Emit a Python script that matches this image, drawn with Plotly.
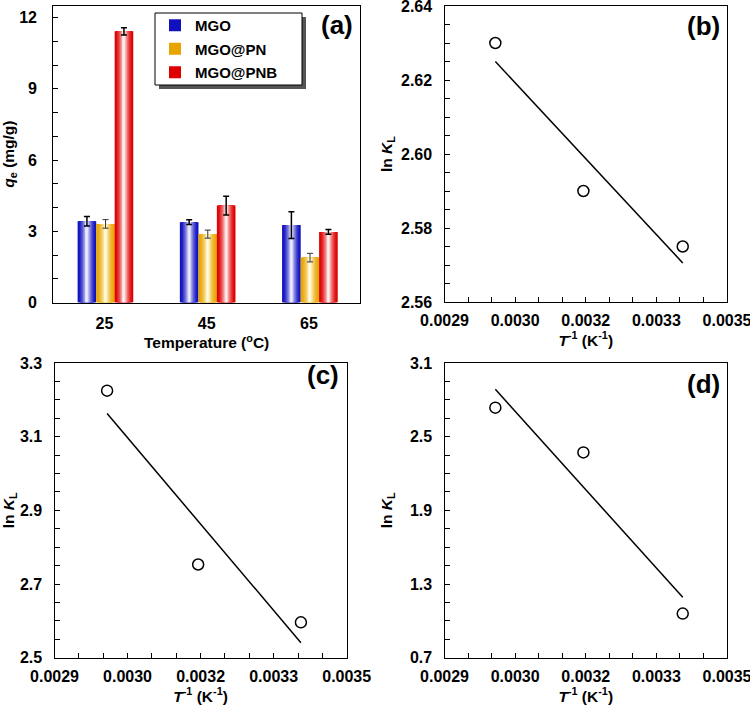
import numpy as np
import plotly.graph_objects as go

# ---------------- data ----------------
temps = ["25", "45", "65"]
series_names = ["MGO", "MGO@PN", "MGO@PNB"]
qe_mgo = [3.42, 3.38, 3.26]
qe_mgo_err = [0.20, 0.10, 0.56]
qe_pn = [3.31, 2.88, 1.89]
qe_pn_err = [0.18, 0.17, 0.18]
qe_pnb = [11.42, 4.08, 2.97]
qe_pnb_err = [0.15, 0.40, 0.10]

inv_T = [0.003008, 0.003195, 0.003406]
lnK_b = [2.630, 2.590, 2.575]
lnK_c = [3.225, 2.753, 2.596]
lnK_d = [2.736, 2.372, 1.059]

x_tickvals = [0.0029, 0.00305, 0.0032, 0.00335, 0.0035]
x_ticktext = ["0.0029", "0.0030", "0.0032", "0.0033", "0.0035"]
panel_labels = ["(a)", "(b)", "(c)", "(d)"]

# ---------------- style ----------------
W_PX, H_PX = 750, 706
FONT = "Liberation Sans, Arial, sans-serif"
tick_font = dict(family=FONT, size=16, color="black", weight="bold")
title_font = dict(family=FONT, size=15.5, color="black", weight="bold")


def px2x(px):
    return px / W_PX


def px2y(py):
    return 1 - py / H_PX


def mix(c1, c2, t):
    return "#%02x%02x%02x" % tuple(int(round(a + (b - a) * t)) for a, b in zip(c1, c2))


fig = go.Figure()

# ---------------- panel (a): bars with cylinder shading ----------------
BAR_W = 0.182
bar_specs = [
    (series_names[0], qe_mgo, qe_mgo_err, (16, 16, 190), (235, 235, 255), -0.262, "black", 1.5),
    (series_names[1], qe_pn, qe_pn_err, (232, 165, 0), (255, 250, 220), -0.080, "#333333", 1.0),
    (series_names[2], qe_pnb, qe_pnb_err, (222, 0, 0), (255, 236, 236), 0.100, "black", 1.5),
]
N_LAYERS = 12
for name, vals, errs, edge, mid, off, ecol, eth in bar_specs:
    for k in range(N_LAYERS):
        t = k / (N_LAYERS - 1)
        w = BAR_W * (1 - k / N_LAYERS)
        color = mix(edge, mid, t ** 1.6)
        last = k == N_LAYERS - 1
        fig.add_trace(go.Bar(
            x=temps, y=vals, width=w, offset=off + (BAR_W - w) / 2,
            marker=dict(color=color, line=dict(width=0)),
            name=name, legendgroup=name, showlegend=(k == 0),
            error_y=dict(type="data", array=errs, color=ecol, thickness=eth,
                         width=3, visible=last),
            xaxis="x", yaxis="y", hoverinfo="skip" if not last else None,
        ))

# ---------------- panels (b)-(d): ln K vs 1/T ----------------
for xa, ya, lnK in [("x2", "y2", lnK_b), ("x3", "y3", lnK_c), ("x4", "y4", lnK_d)]:
    slope, icpt = np.polyfit(inv_T, lnK, 1)
    xfit = np.array([min(inv_T), max(inv_T)])
    fig.add_trace(go.Scatter(
        x=xfit, y=slope * xfit + icpt, mode="lines",
        line=dict(color="black", width=1.5), showlegend=False,
        xaxis=xa, yaxis=ya))
    fig.add_trace(go.Scatter(
        x=inv_T, y=lnK, mode="markers",
        marker=dict(symbol="circle-open", size=11, color="black", line=dict(width=1.5)),
        showlegend=False, xaxis=xa, yaxis=ya))

# ---------------- axes ----------------
common = dict(showline=True, linecolor="black", linewidth=1.3, mirror=True,
              showgrid=False, zeroline=False, tickfont=tick_font,
              automargin=False, ticks="inside", ticklen=5, tickcolor="black",
              tickwidth=1, ticklabeloverflow="allow")

dom_a = ([px2x(53.3), px2x(360)], [px2y(302.5), px2y(5.7)])
dom_b = ([px2x(444.5), px2x(727)], [px2y(302), px2y(6)])
dom_c = ([px2x(54.5), px2x(346.7)], [px2y(657.7), px2y(363)])
dom_d = ([px2x(444.5), px2x(727)], [px2y(657.7), px2y(363)])

xtitle_T = dict(text="<i>T</i><sup>-1</sup> (K<sup>-1</sup>)", font=title_font, standoff=2)

layout_axes = dict(
    xaxis=dict(common, domain=dom_a[0], anchor="y", type="category",
               range=[-0.5, 2.5], ticks="", ticklabelstandoff=6,
               title=dict(text="Temperature (<sup>o</sup>C)", font=title_font, standoff=0)),
    yaxis=dict(common, domain=dom_a[1], anchor="x", range=[0, 12.5],
               tickvals=[0, 3, 6, 9, 12], ticklabelstandoff=12,
               minor=dict(dtick=1, tick0=0, ticks="inside", ticklen=5, tickcolor="black"),
               title=dict(text="<i>q</i><sub>e</sub> (mg/g)", font=title_font, standoff=8)),
)
for i, (dom, yr, ydt, ymin, yfmt, ystand) in enumerate([
        (dom_b, [2.56, 2.64], 0.02, 0.005, ".2f", 4),
        (dom_c, [2.5, 3.3], 0.2, 0.05, ".1f", 3),
        (dom_d, [0.7, 3.1], 0.6, 0.15, ".1f", 13)], start=2):
    layout_axes[f"xaxis{i}"] = dict(
        common, domain=dom[0], anchor=f"y{i}", range=[0.0029, 0.0035],
        tickmode="array", tickvals=x_tickvals, ticktext=x_ticktext,
        ticklabelstandoff=4,
        minor=dict(tick0=0.0029, dtick=0.00005, ticks="inside", ticklen=5, tickcolor="black"),
        title=xtitle_T)
    layout_axes[f"yaxis{i}"] = dict(
        common, domain=dom[1], anchor=f"x{i}", range=yr,
        tick0=yr[0], dtick=ydt, tickformat=yfmt, ticklabelstandoff=8,
        minor=dict(tick0=yr[0], dtick=ymin, ticks="inside", ticklen=5, tickcolor="black"),
        title=dict(text="ln <i>K</i><sub>L</sub>", font=title_font, standoff=ystand))

fig.update_layout(**layout_axes)

# ---------------- panel labels ----------------
label_pos = [(337, 25), (703, 26), (323, 375), (703, 384)]
fig.update_layout(annotations=[
    dict(text=lab, x=px2x(px), y=px2y(py), xref="paper", yref="paper",
         showarrow=False, xanchor="center", yanchor="middle",
         font=dict(family=FONT, size=26, color="black", weight="bold"))
    for lab, (px, py) in zip(panel_labels, label_pos)
])

# ---------------- legend with framed box + shadow ----------------
fig.update_layout(
    shapes=[
        dict(type="rect", xref="paper", yref="paper",
             x0=px2x(159), x1=px2x(306), y0=px2y(89), y1=px2y(17),
             fillcolor="#555555", line=dict(width=0), layer="above"),
        dict(type="rect", xref="paper", yref="paper",
             x0=px2x(155), x1=px2x(302), y0=px2y(85), y1=px2y(13),
             fillcolor="white", line=dict(color="black", width=1), layer="above"),
    ],
    legend=dict(x=px2x(155), y=px2y(9), xanchor="left", yanchor="top",
                bgcolor="rgba(0,0,0,0)", borderwidth=0,
                font=dict(family=FONT, size=15, color="black", weight="bold"),
                tracegroupgap=1, itemsizing="constant"),
)

fig.update_layout(
    width=W_PX, height=H_PX, barmode="overlay",
    margin=dict(l=0, r=0, t=0, b=0),
    paper_bgcolor="white", plot_bgcolor="white",
    font=dict(family=FONT, color="black"),
)

fig.write_html("out.html", config={"displayModeBar": False},
               post_script="document.body.style.margin='0';document.body.style.overflow='hidden';")
